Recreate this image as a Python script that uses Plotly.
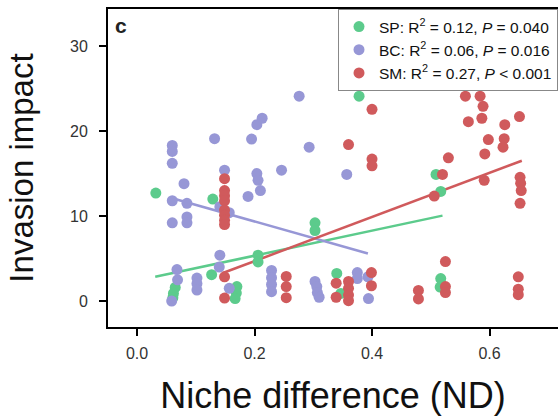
import plotly.graph_objects as go

# ---- data ----
sp_x = [0.032, 0.129, 0.127, 0.065, 0.062, 0.061, 0.170, 0.169, 0.167, 0.206, 0.206,
        0.303, 0.303, 0.340, 0.347, 0.378, 0.509, 0.517, 0.517, 0.516]
sp_y = [12.7, 12.0, 3.1, 1.6, 0.9, 0.4, 1.7, 0.95, 0.3, 5.4, 4.6,
        9.2, 8.3, 3.25, 0.9, 24.1, 14.9, 12.9, 2.65, 1.65]

bc_x = [0.060, 0.060, 0.060, 0.132, 0.195, 0.204, 0.213, 0.276, 0.293, 0.149, 0.246,
        0.204, 0.206, 0.210, 0.357, 0.080, 0.189, 0.060, 0.085, 0.141, 0.157, 0.060,
        0.085, 0.085, 0.141, 0.140, 0.068, 0.069, 0.059, 0.102, 0.102, 0.102, 0.157,
        0.229, 0.229, 0.229, 0.229, 0.303, 0.306, 0.307, 0.310, 0.375, 0.375, 0.393, 0.394]
bc_y = [18.3, 17.6, 16.2, 19.1, 19.05, 20.75, 21.5, 24.1, 18.1, 15.4, 15.4,
        15.0, 14.2, 13.0, 14.9, 13.8, 12.3, 11.8, 11.5, 11.1, 10.4, 9.2,
        9.9, 9.2, 5.4, 4.0, 3.7, 2.5, 0.0, 2.7, 2.05, 1.3, 1.5,
        3.6, 2.75, 1.95, 1.1, 2.3, 1.7, 1.0, 0.45, 3.35, 2.65, 2.85, 0.3]

sm_x = [0.149, 0.149, 0.149, 0.149, 0.149, 0.149, 0.149, 0.149, 0.149, 0.149,
        0.254, 0.254, 0.254, 0.339, 0.339, 0.360, 0.360, 0.360, 0.360, 0.360,
        0.399, 0.399, 0.400, 0.400, 0.400, 0.479, 0.479, 0.506, 0.520, 0.530,
        0.525, 0.525, 0.525, 0.559, 0.584, 0.589, 0.564, 0.587, 0.626, 0.651,
        0.598, 0.625, 0.623, 0.592, 0.591, 0.652, 0.653, 0.654, 0.652, 0.649,
        0.649, 0.649]
sm_y = [14.4, 13.0, 12.4, 11.8, 10.7, 10.1, 9.5, 9.0, 2.85, 0.35,
        2.9, 1.7, 0.4, 2.1, 0.45, 2.3, 1.5, 0.7, 0.05, 18.4,
        3.35, 1.8, 22.55, 16.7, 15.9, 1.25, 0.25, 12.35, 14.9, 16.85,
        4.65, 1.7, 1.0, 24.1, 24.1, 22.9, 21.1, 21.5, 20.75, 21.7,
        19.0, 19.1, 18.1, 17.3, 14.2, 14.55, 13.85, 13.0, 11.5, 2.85,
        1.4, 0.75]

# fitted regression lines (end points)
sp_fit_x = [0.031, 0.52]
sp_fit_y = [2.85, 10.05]
bc_fit_x = [0.06, 0.393]
bc_fit_y = [12.1, 5.6]
sm_fit_x = [0.146, 0.655]
sm_fit_y = [3.3, 16.5]

names = ["SP: R<sup>2</sup> = 0.12, <i>P</i> = 0.040",
         "BC: R<sup>2</sup> = 0.06, <i>P</i> = 0.016",
         "SM: R<sup>2</sup> = 0.27, <i>P</i> &lt; 0.001"]
x_ticks = [0.0, 0.2, 0.4, 0.6]
x_tick_text = ["0.0", "0.2", "0.4", "0.6"]
y_ticks = [0, 10, 20, 30]

c_sp = "#5CCB8C"
c_bc = "#9797D6"
c_sm = "#D05A5C"

fig = go.Figure()

for fx, fy, c in [(sp_fit_x, sp_fit_y, c_sp), (bc_fit_x, bc_fit_y, c_bc), (sm_fit_x, sm_fit_y, c_sm)]:
    fig.add_trace(go.Scatter(x=fx, y=fy, mode="lines", line=dict(color=c, width=2.5),
                             showlegend=False, hoverinfo="skip"))

for xs, ys, c, n in [(sp_x, sp_y, c_sp, names[0]), (bc_x, bc_y, c_bc, names[1]), (sm_x, sm_y, c_sm, names[2])]:
    fig.add_trace(go.Scatter(x=xs, y=ys, mode="markers", name=n,
                             marker=dict(color=c, size=11, line=dict(width=0))))

axis_font = dict(family="Arial, Liberation Sans, sans-serif", size=16, color="#333333")
xtitle_font = dict(family="Arial, Liberation Sans, sans-serif", size=36, color="#111111")
ytitle_font = dict(family="Arial, Liberation Sans, sans-serif", size=33, color="#111111")

fig.update_layout(
    width=558, height=420,
    margin=dict(l=108, r=0, t=9, b=93, autoexpand=False),
    paper_bgcolor="white", plot_bgcolor="white",
    font=dict(family="Arial, Liberation Sans, sans-serif"),
    legend=dict(x=1.0, y=1, xanchor="right", yanchor="top",
                bgcolor="white", bordercolor="#888888", borderwidth=1,
                font=dict(size=15.5, color="#111111"),
                itemwidth=30, tracegroupgap=0),
    annotations=[dict(text="<b>c</b>", x=0.012, y=0.99, xref="paper", yref="paper",
                      xanchor="left", yanchor="top", showarrow=False,
                      font=dict(size=21, color="#222222"))],
)
fig.update_xaxes(range=[-0.0494, 0.7166], tickvals=x_ticks, ticktext=x_tick_text,
                 showgrid=False, zeroline=False, showline=True, mirror=True,
                 linecolor="black", linewidth=2, ticks="outside", ticklen=7,
                 tickwidth=2, tickcolor="black", tickfont=axis_font,
                 ticklabelstandoff=4,
                 title=dict(text="Niche difference (ND)", font=xtitle_font, standoff=22))
fig.update_yaxes(range=[-3.05, 34.35], tickvals=y_ticks,
                 showgrid=False, zeroline=False, showline=True, mirror=False,
                 linecolor="black", linewidth=2, ticks="outside", ticklen=7,
                 tickwidth=2, tickcolor="black", tickfont=axis_font,
                 ticklabelstandoff=8,
                 title=dict(text="Invasion impact", font=ytitle_font, standoff=26))

fig.write_html("out.html")
